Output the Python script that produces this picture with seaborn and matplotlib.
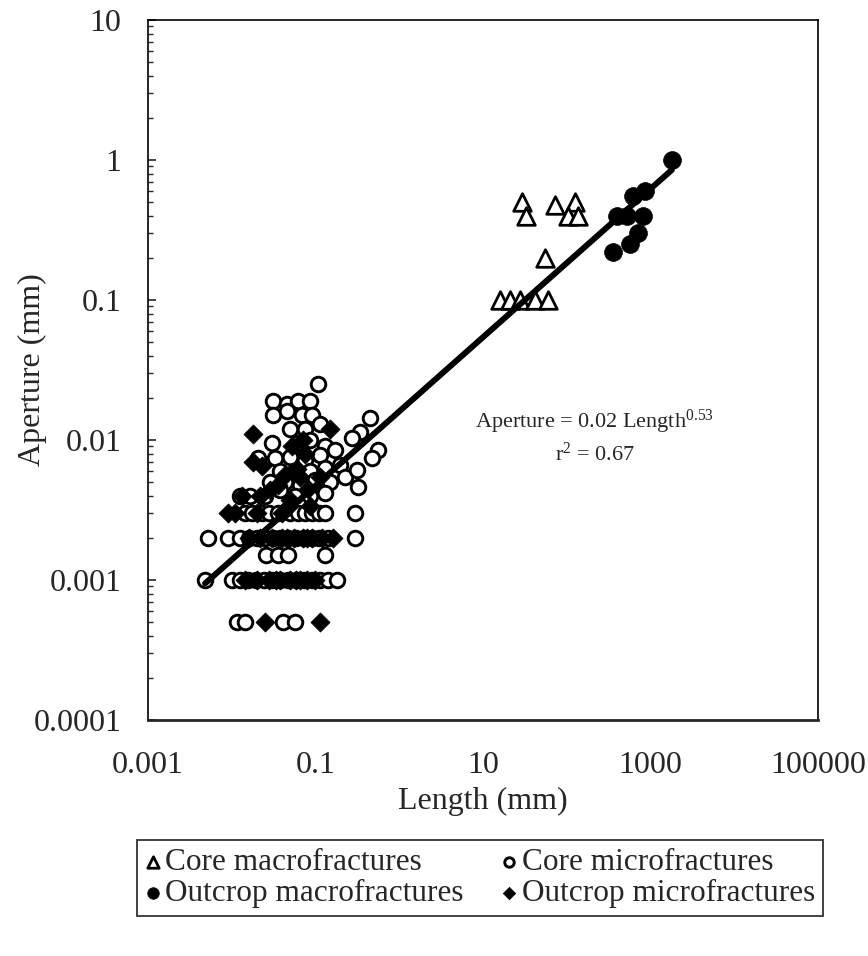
import numpy as np
import pandas as pd
import matplotlib
matplotlib.use("Agg")
import matplotlib.pyplot as plt
from matplotlib.ticker import LogLocator, NullFormatter
import seaborn as sns

sns.set_style("ticks")
plt.rcParams['font.family'] = ['Liberation Serif', 'DejaVu Serif']
plt.rcParams['mathtext.fontset'] = 'custom'
plt.rcParams['mathtext.rm'] = 'Liberation Serif'
plt.rcParams['mathtext.it'] = 'Liberation Serif:italic'

# Core macrofractures (open triangles)
core_macro_len = [29, 33, 72, 126, 104, 135, 55, 16, 21, 28, 42, 60]
core_macro_ap = [0.5, 0.4, 0.48, 0.5, 0.4, 0.4, 0.2, 0.1, 0.1, 0.1, 0.1, 0.1]

# Outcrop macrofractures (filled circles)
out_macro_len = [1800, 620, 860, 400, 525, 810, 710, 570, 355]
out_macro_ap = [1.0, 0.55, 0.6, 0.4, 0.4, 0.4, 0.3, 0.25, 0.22]

# Core microfractures (open circles)
core_micro_len = [
    # 0.0005 row
    0.0116, 0.0145, 0.041, 0.057,
    # 0.001 row
    0.0048, 0.010, 0.0126, 0.0156, 0.0195, 0.024, 0.030, 0.038, 0.047, 0.058,
    0.073, 0.091, 0.113, 0.141, 0.18,
    # 0.0015 row
    0.026, 0.036, 0.047, 0.13,
    # 0.002 row
    0.0052, 0.009, 0.0126, 0.016, 0.02, 0.025, 0.031, 0.038, 0.047, 0.058,
    0.073, 0.091, 0.11, 0.14, 0.3,
    # 0.003 row
    0.0144, 0.0175, 0.023, 0.028, 0.036, 0.05, 0.062, 0.075, 0.091, 0.11, 0.13, 0.3,
    # upper scatter
    0.031, 0.046, 0.062, 0.086, 0.107, 0.031, 0.046, 0.069, 0.091,
    0.05, 0.075, 0.113, 0.030, 0.06, 0.086, 0.13,
    0.0206, 0.033, 0.05, 0.075, 0.113, 0.171,
    0.038, 0.057, 0.086, 0.13, 0.196,
    0.0286, 0.043, 0.065, 0.099, 0.149, 0.225,
    0.038, 0.057, 0.086, 0.13, 0.025, 0.0165, 0.0126,
    0.45, 0.34, 0.27, 0.56, 0.47, 0.31, 0.32,
]
core_micro_ap = [
    0.0005, 0.0005, 0.0005, 0.0005,
    0.001, 0.001, 0.001, 0.001, 0.001, 0.001, 0.001, 0.001, 0.001, 0.001,
    0.001, 0.001, 0.001, 0.001, 0.001,
    0.0015, 0.0015, 0.0015, 0.0015,
    0.002, 0.002, 0.002, 0.002, 0.002, 0.002, 0.002, 0.002, 0.002, 0.002,
    0.002, 0.002, 0.002, 0.002, 0.002,
    0.003, 0.003, 0.003, 0.003, 0.003, 0.003, 0.003, 0.003, 0.003, 0.003, 0.003, 0.003,
    0.019, 0.018, 0.019, 0.019, 0.025, 0.015, 0.016, 0.015, 0.015,
    0.012, 0.012, 0.013, 0.0095, 0.0095, 0.010, 0.009,
    0.0074, 0.0074, 0.0076, 0.0072, 0.0078, 0.0085,
    0.006, 0.006, 0.006, 0.0063, 0.0066,
    0.005, 0.005, 0.0048, 0.0052, 0.005, 0.0054,
    0.0044, 0.004, 0.004, 0.0042, 0.004, 0.004, 0.004,
    0.0144, 0.0114, 0.0103, 0.0085, 0.0074, 0.0061, 0.0046,
]

# Outcrop microfractures (filled diamonds)
out_micro_len = [
    0.025, 0.113,
    0.0144, 0.02, 0.028, 0.038, 0.05, 0.065, 0.08, 0.1, 0.034, 0.058,
    0.016, 0.022, 0.03, 0.04, 0.055, 0.07, 0.09, 0.12, 0.16, 0.046, 0.08,
    0.009, 0.011, 0.02, 0.04,
    0.018, 0.149, 0.018, 0.023, 0.052, 0.075, 0.043, 0.065,
    0.0286, 0.05, 0.086, 0.113, 0.0133, 0.0217, 0.07,
    0.036, 0.06, 0.082, 0.047,
]
out_micro_ap = [
    0.0005, 0.0005,
    0.001, 0.001, 0.001, 0.001, 0.001, 0.001, 0.001, 0.001, 0.001, 0.001,
    0.002, 0.002, 0.002, 0.002, 0.002, 0.002, 0.002, 0.002, 0.002, 0.002, 0.002,
    0.003, 0.003, 0.003, 0.003,
    0.011, 0.012, 0.007, 0.0065, 0.009, 0.008, 0.0056, 0.0054,
    0.0044, 0.0037, 0.0034, 0.0054, 0.004, 0.004, 0.010,
    0.0048, 0.0062, 0.0045, 0.0033,
]

# power-law fit: Aperture = a * Length^b
fit_a = 0.016
fit_b = 0.53
fit_len = np.array([0.0048, 1800])
fit_ap = fit_a * fit_len ** fit_b

fig = plt.figure(figsize=(8.68, 9.56), dpi=100)
ax = fig.add_axes([0.1705, 0.2469, 0.7719, 0.7322])

sns.scatterplot(x=core_micro_len, y=core_micro_ap, marker='o', s=110, color='white',
                edgecolor='black', linewidth=2.1, ax=ax, label='Core microfractures',
                legend=False, zorder=2)
sns.scatterplot(x=out_micro_len, y=out_micro_ap, marker='D', s=95, color='black',
                edgecolor='black', linewidth=0.5, ax=ax, label='Outcrop microfractures',
                legend=False, zorder=3)
sns.scatterplot(x=core_macro_len, y=core_macro_ap, marker='^', s=160, color='white',
                edgecolor='black', linewidth=2.0, ax=ax, label='Core macrofractures',
                legend=False, zorder=3)
sns.scatterplot(x=out_macro_len, y=out_macro_ap, marker='o', s=165, color='black',
                edgecolor='black', linewidth=0.5, ax=ax, label='Outcrop macrofractures',
                legend=False, zorder=3)
sns.lineplot(x=fit_len, y=fit_ap, color='black', linewidth=4.3, ax=ax, zorder=4)
if ax.get_legend() is not None:
    ax.get_legend().remove()

ax.set_xscale('log')
ax.set_yscale('log')
ax.set_xlim(0.001, 100000)
ax.set_ylim(0.0001, 10)

ax.set_xticks([0.001, 0.1, 10, 1000, 100000])
ax.set_xticklabels(['0.001', '0.1', '10', '1000', '100000'])
ax.xaxis.set_minor_locator(LogLocator(base=10, subs='auto', numticks=20))
ax.xaxis.set_minor_formatter(NullFormatter())
ax.set_yticks([0.0001, 0.001, 0.01, 0.1, 1, 10])
ax.set_yticklabels(['0.0001', '0.001', '0.01', '0.1', '1', '10'])
ax.yaxis.set_minor_locator(LogLocator(base=10, subs='auto', numticks=20))
ax.yaxis.set_minor_formatter(NullFormatter())

ax.tick_params(axis='x', which='both', length=0, pad=22, labelsize=23)
ax.tick_params(axis='y', which='major', direction='in', length=6, width=1.2,
               pad=19, labelsize=23)
ax.tick_params(axis='y', which='minor', direction='in', length=3.5, width=1)

for side in ['left', 'top', 'right']:
    ax.spines[side].set_linewidth(1.2)
    ax.spines[side].set_color('black')
ax.spines['bottom'].set_linewidth(2)

ax.set_xlabel('Length (mm)', fontsize=23, labelpad=5)
ax.set_ylabel('Aperture (mm)', fontsize=23)
ax.yaxis.set_label_coords(-0.15, 0.5)

ax.text(0.667, 0.426, r'Aperture = 0.02 Length$^{0.53}$', transform=ax.transAxes,
        ha='center', va='center', fontsize=16)
ax.text(0.667, 0.379, r'r$^{2}$ = 0.67', transform=ax.transAxes,
        ha='center', va='center', fontsize=16)

handles, labels = ax.get_legend_handles_labels()
order = ['Core macrofractures', 'Outcrop macrofractures',
         'Core microfractures', 'Outcrop microfractures']
hmap = dict(zip(labels, handles))
leg = fig.legend([hmap[k] for k in order], order, loc='center',
                 bbox_to_anchor=(0.553, 0.0816), ncol=2, fontsize=22.5,
                 frameon=True, fancybox=False, edgecolor='black',
                 markerscale=0.65, handlelength=0.5, handletextpad=0.15,
                 columnspacing=1.2, labelspacing=0.05, borderpad=0.25)
leg.get_frame().set_linewidth(1.3)

fig.savefig('out.png', dpi=100)
